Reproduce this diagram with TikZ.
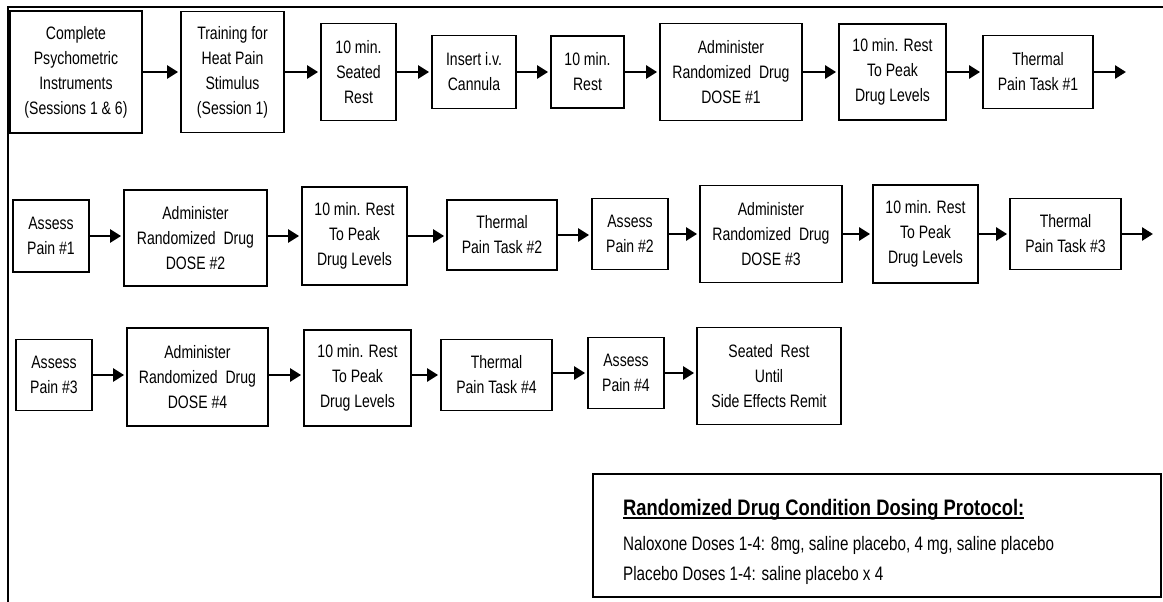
\documentclass[tikz,border=0pt]{standalone}
\usepackage{fontspec}
\setmainfont{Liberation Sans}[FakeStretch=0.78]
\newfontfamily\lgdfont{Liberation Sans}[FakeStretch=0.82]
\usepackage{tikz}
\usetikzlibrary{arrows.meta}

\begin{document}
\begin{tikzpicture}[x=1pt,y=-1pt,
    task/.style={draw,line width=1.8pt,align=center,inner sep=0pt,
      font=\fontsize{18}{25}\selectfont},
    flow/.style={line width=2.6pt,>={Triangle[length=11pt,width=13pt]},shorten >=2pt}]
    \useasboundingbox (0,0) rectangle (1163,602);
    % frame
    \draw[line width=2.4pt] (8,602) -- (8,7) -- (1163,7);

    % row 1
    \node[task,line width=2.8pt,minimum width=132pt,minimum height=122pt] (cpi) at (76,72) {Complete\\Psychometric\\Instruments\\(Sessions 1 \& 6)};
    \node[task,minimum width=103pt,minimum height=121pt] (trn) at (232.5,72) {Training for\\Heat Pain\\Stimulus\\(Session 1)};
    \node[task,minimum width=75pt,minimum height=97pt] (sr1) at (358.5,72) {10 min.\\Seated\\Rest};
    \node[task,minimum width=84pt,minimum height=73pt] (ivc) at (474,72) {Insert i.v.\\Cannula};
    \node[task,minimum width=73pt,minimum height=72pt] (rst) at (587.5,72) {10 min.\\Rest};
    \node[task,minimum width=142pt,minimum height=97pt] (ds1) at (731,72) {Administer\\Randomized\ \ Drug\\DOSE \#1};
    \node[task,minimum width=107pt,minimum height=96pt] (pk1) at (892.5,72) {10 min. Rest\\To Peak\\Drug Levels};
    \node[task,minimum width=110pt,minimum height=73pt] (tp1) at (1038,72) {Thermal\\Pain Task \#1};
    \coordinate (end1) at (1128,72);

    \draw[flow,->] (cpi.east) -- (trn.west);
    \draw[flow,->] (trn.east) -- (sr1.west);
    \draw[flow,->] (sr1.east) -- (ivc.west);
    \draw[flow,->] (ivc.east) -- (rst.west);
    \draw[flow,->] (rst.east) -- (ds1.west);
    \draw[flow,->] (ds1.east) -- (pk1.west);
    \draw[flow,->] (pk1.east) -- (tp1.west);
    \draw[flow,->] (tp1.east) -- (end1);

    % row 2
    \node[task,minimum width=76pt,minimum height=72pt] (ap1) at (51,236) {Assess\\Pain \#1};
    \node[task,minimum width=143pt,minimum height=96pt] (ds2) at (195.5,238) {Administer\\Randomized\ \ Drug\\DOSE \#2};
    \node[task,minimum width=105pt,minimum height=98pt] (pk2) at (354.5,236) {10 min. Rest\\To Peak\\Drug Levels};
    \node[task,minimum width=110pt,minimum height=70pt] (tp2) at (502,235) {Thermal\\Pain Task \#2};
    \node[task,minimum width=76pt,minimum height=71pt] (ap2) at (630,234) {Assess\\Pain \#2};
    \node[task,minimum width=142pt,minimum height=97pt] (ds3) at (771,234) {Administer\\Randomized\ \ Drug\\DOSE \#3};
    \node[task,minimum width=105pt,minimum height=98pt] (pk3) at (925.5,234) {10 min. Rest\\To Peak\\Drug Levels};
    \node[task,minimum width=111pt,minimum height=71pt] (tp3) at (1065.5,234) {Thermal\\Pain Task \#3};
    \coordinate (end2) at (1155,234);

    \draw[flow,->] (ap1.east) -- (ds2.west |- ap1.east);
    \draw[flow,->] (ds2.east |- pk2.west) -- (pk2.west);
    \draw[flow,->] (pk2.east) -- (tp2.west |- pk2.east);
    \draw[flow,->] (tp2.east) -- (ap2.west |- tp2.east);
    \draw[flow,->] (ap2.east) -- (ds3.west);
    \draw[flow,->] (ds3.east) -- (pk3.west);
    \draw[flow,->] (pk3.east) -- (tp3.west);
    \draw[flow,->] (tp3.east) -- (end2);

    % row 3
    \node[task,minimum width=76pt,minimum height=71pt] (ap3) at (54,375) {Assess\\Pain \#3};
    \node[task,minimum width=141pt,minimum height=98pt] (ds4) at (197.5,377) {Administer\\Randomized\ \ Drug\\DOSE \#4};
    \node[task,minimum width=107pt,minimum height=96pt] (pk4) at (357.5,378) {10 min. Rest\\To Peak\\Drug Levels};
    \node[task,minimum width=111pt,minimum height=71pt] (tp4) at (496.5,375) {Thermal\\Pain Task \#4};
    \node[task,minimum width=76pt,minimum height=71pt] (ap4) at (626,373) {Assess\\Pain \#4};
    \node[task,minimum width=144pt,minimum height=97pt] (sre) at (769,376) {Seated\ \ Rest\\Until\\Side Effects Remit};

    \draw[flow,->] (ap3.east) -- (ds4.west |- ap3.east);
    \draw[flow,->] (ds4.east |- ap3.east) -- (pk4.west |- ap3.east);
    \draw[flow,->] (pk4.east |- ap3.east) -- (tp4.west);
    \draw[flow,->] (tp4.east |- ap4.west) -- (ap4.west);
    \draw[flow,->] (ap4.east) -- (sre.west |- ap4.east);

    % dosing legend
    \node[draw,line width=2.8pt,minimum width=568pt,minimum height=123pt,inner sep=0pt] (lgd) at (877,535.5) {};
    \node[anchor=base west,inner sep=0pt,font=\lgdfont\bfseries\fontsize{22.4}{25}\selectfont] (lgdttl) at (623,515) {Randomized Drug Condition Dosing Protocol:};
    \draw[line width=1.8pt] ([yshift=-3pt]lgdttl.base west) -- ([yshift=-3pt]lgdttl.base east);
    \node[anchor=base west,inner sep=0pt,font=\fontsize{19.5}{25}\selectfont] (lgdnal) at (623,550) {Naloxone Doses 1-4: 8mg, saline placebo, 4 mg, saline placebo};
    \node[anchor=base west,inner sep=0pt,font=\fontsize{19.5}{25}\selectfont] (lgdplc) at (623,580) {Placebo Doses 1-4: saline placebo x 4};
\end{tikzpicture}
\end{document}
